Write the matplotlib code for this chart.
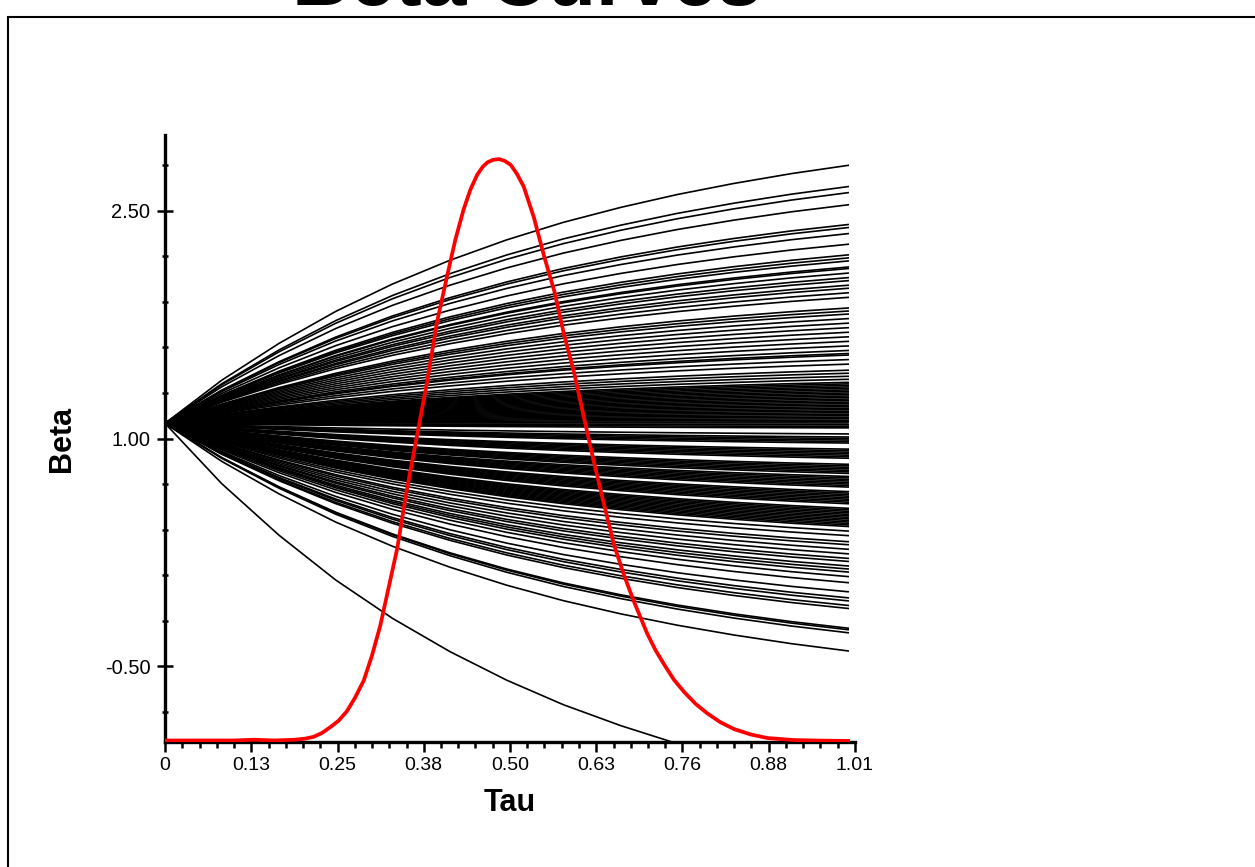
import numpy as np
import matplotlib.pyplot as plt
from matplotlib.patches import Rectangle

plt.rcParams['font.family'] = ['Liberation Sans', 'DejaVu Sans']

# tau grid the curves are drawn on, and the common shape of the fan (fraction of the move done)
tau_grid = [0, 0.083, 0.167, 0.25, 0.333, 0.417, 0.5, 0.583, 0.667, 0.75, 0.833, 0.917, 1.0]
shape = [0, 0.167, 0.310, 0.434, 0.540, 0.632, 0.711, 0.779, 0.837, 0.887, 0.930, 0.968, 1.0]
beta_start = 1.10

# beta at tau = 1 for every curve
beta_end = [2.80, 2.66, 2.62, 2.54, 2.41, 2.39, 2.35, 2.28, 2.21, 2.19, 2.17, 2.13, 2.12,
            2.09, 2.06, 2.04, 2.01, 1.99, 1.96, 1.93, 1.86, 1.84, 1.82, 1.79, 1.76, 1.73,
            1.70, 1.67, 1.64, 1.61, 1.58, 1.56, 1.55, 1.52, 1.49, 1.45, 1.43, 1.41, 1.39,
            1.37, 1.36, 1.35, 1.34, 1.33, 1.32, 1.31, 1.30, 1.29, 1.28, 1.27, 1.26, 1.25,
            1.24, 1.23, 1.22, 1.21, 1.20, 1.19, 1.18, 1.17, 1.16, 1.15, 1.14, 1.13, 1.12,
            1.11, 1.10, 1.09, 1.08, 1.07, 1.03, 1.01, 1.00, 0.99, 0.98, 0.97, 0.93, 0.92,
            0.91, 0.90, 0.89, 0.88, 0.87, 0.83, 0.82, 0.81, 0.80, 0.79, 0.78, 0.77, 0.75,
            0.74, 0.73, 0.72, 0.71, 0.70, 0.69, 0.68, 0.65, 0.64, 0.63, 0.62, 0.61, 0.60,
            0.59, 0.58, 0.57, 0.54, 0.53, 0.52, 0.51, 0.50, 0.49, 0.48, 0.47, 0.46, 0.45,
            0.44, 0.43, 0.42, 0.39, 0.36, 0.32, 0.30, 0.27, 0.24, 0.21, 0.19, 0.16, 0.14,
            0.12, 0.09, 0.05, -0.01, -0.05, -0.07, -0.10, -0.12, -0.25, -0.26, -0.28,
            -0.40, -1.28]

# red density-like curve
red_tau = [0, 0.05, 0.10, 0.13, 0.16, 0.19, 0.205, 0.2175, 0.23, 0.242, 0.254, 0.266,
           0.278, 0.291, 0.303, 0.315, 0.327, 0.340, 0.354, 0.369, 0.384, 0.398, 0.413,
           0.425, 0.437, 0.447, 0.457, 0.465, 0.472, 0.480, 0.489, 0.497, 0.506, 0.515,
           0.525, 0.540, 0.555, 0.570, 0.584, 0.599, 0.614, 0.628, 0.643, 0.657, 0.672,
           0.687, 0.706, 0.718, 0.731, 0.745, 0.760, 0.777, 0.794, 0.813, 0.833, 0.857,
           0.882, 0.920, 0.960, 1.0]
red_val = [-0.99, -0.99, -0.99, -0.985, -0.99, -0.985, -0.978, -0.966, -0.940, -0.902,
           -0.860, -0.799, -0.710, -0.594, -0.430, -0.235, 0.010, 0.277, 0.662, 1.021,
           1.380, 1.764, 2.072, 2.310, 2.508, 2.640, 2.738, 2.790, 2.820, 2.836, 2.841,
           2.830, 2.803, 2.745, 2.661, 2.456, 2.200, 1.969, 1.687, 1.431, 1.123, 0.842,
           0.560, 0.303, 0.098, -0.081, -0.287, -0.395, -0.492, -0.590, -0.671, -0.750,
           -0.812, -0.870, -0.915, -0.950, -0.974, -0.987, -0.991, -0.993]

xtick_labels = ['0', '0.13', '0.25', '0.38', '0.50', '0.63', '0.76', '0.88', '1.01']
ytick_vals = [-0.5, 1.0, 2.5]
ytick_labels = ['-0.50', '1.00', '2.50']

fig = plt.figure(figsize=(12.55, 8.67), dpi=100)
ax = fig.add_axes([165 / 1255, 1 - 742 / 867, 690 / 1255, 607 / 867])

shape = np.array(shape)
for b in beta_end:
    ax.plot(tau_grid, beta_start + (b - beta_start) * shape, color='black', lw=1.2)

ax.plot(red_tau, red_val, color='red', lw=2.7, zorder=5)

ax.set_xlim(0, 1.01)
ax.set_ylim(-1.0, 3.0)

ax.set_xticks(np.linspace(0, 1.01, 9))
ax.set_xticklabels(xtick_labels)
ax.set_xticks(np.linspace(0, 1.01, 41), minor=True)
ax.set_yticks(ytick_vals)
ax.set_yticklabels(ytick_labels)
ax.set_yticks(np.arange(-0.8, 3.0, 0.3), minor=True)

for s in ['top', 'right']:
    ax.spines[s].set_visible(False)
for s in ['left', 'bottom']:
    ax.spines[s].set_linewidth(2.4)

ax.tick_params(axis='x', which='major', direction='out', length=7, width=1.8,
               labelsize=14, pad=4)
ax.tick_params(axis='x', which='minor', direction='out', length=4.5, width=1.8)
ax.tick_params(axis='y', which='major', direction='inout', length=11, width=1.8,
               labelsize=14.5, pad=5)
ax.tick_params(axis='y', which='minor', direction='inout', length=5, width=1.8)

ax.set_xlabel('Tau', fontsize=22, fontweight='bold', labelpad=10)
ax.set_ylabel('Beta', fontsize=22, fontweight='bold', labelpad=20)

# outer frame and the clipped title at the top
fig.patches.append(Rectangle((8 / 1255, -0.1), 1.2, 1.1 - 17 / 867, transform=fig.transFigure,
                             fill=False, edgecolor='black', lw=1.5))
fig.text(0.42, 1 - 5 / 867, 'Beta Curves', fontsize=58, fontweight='bold',
         ha='center', va='baseline')

fig.savefig('out.png', dpi=100)
